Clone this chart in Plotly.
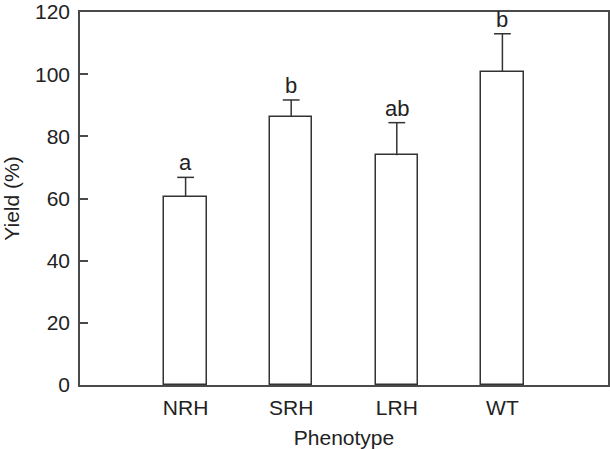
import plotly.graph_objects as go

categories = ["NRH", "SRH", "LRH", "WT"]
yield_pct = [60.6, 86.3, 73.9, 100.7]
error_up = [6.2, 5.4, 10.5, 12.3]
letters = ["a", "b", "ab", "b"]
y_ticks = [0, 20, 40, 60, 80, 100, 120]

FONT = "Liberation Sans, Arial, Helvetica, sans-serif"
AX = "#4a4a4a"
EC = "#333333"

cap_y = [v + e for v, e in zip(yield_pct, error_up)]

fig = go.Figure()
fig.add_trace(go.Bar(
    x=categories, y=yield_pct, width=0.4,
    marker=dict(color="white", line=dict(color=EC, width=1.5)),
    error_y=dict(type="data", symmetric=False, array=error_up,
                 arrayminus=[0] * len(error_up),
                 color=EC, thickness=1.5, width=0),
))
# caps at the top of the error bars
fig.add_trace(go.Scatter(
    x=categories, y=cap_y, mode="markers",
    marker=dict(symbol="line-ew", size=12, line=dict(color=EC, width=1.5)),
    hoverinfo="skip",
))

for c, v, t in zip(categories, cap_y, letters):
    fig.add_annotation(x=c, y=v, text=t, showarrow=False,
                       yanchor="bottom", yshift=0,
                       font=dict(family=FONT, size=22, color="#222222"))

fig.update_layout(
    width=610, height=449,
    margin=dict(l=80, r=2, t=12, b=64),
    paper_bgcolor="white", plot_bgcolor="white",
    showlegend=False, bargap=0,
    font=dict(family=FONT, size=21, color="#222222"),
)
fig.update_xaxes(
    range=[-1, 4], showline=True, linecolor=AX, linewidth=1.5, mirror=True,
    ticks="", showgrid=False, zeroline=False, automargin=False,
    tickfont=dict(size=21), ticklabelstandoff=3,
    title=dict(text="Phenotype", font=dict(size=21), standoff=12),
)
fig.update_yaxes(
    range=[0, 120], tickvals=y_ticks, showline=True, linecolor=AX, linewidth=1.5,
    mirror=True, ticks="inside", ticklen=8, tickcolor=AX, tickwidth=1.5,
    showgrid=False, zeroline=False, automargin=False,
    tickfont=dict(size=21), ticklabelstandoff=4,
    title=dict(text="Yield (%)", font=dict(size=21), standoff=10),
)

fig.write_html("out.html", config={"displayModeBar": False},
               post_script="document.body.style.margin='0';")
